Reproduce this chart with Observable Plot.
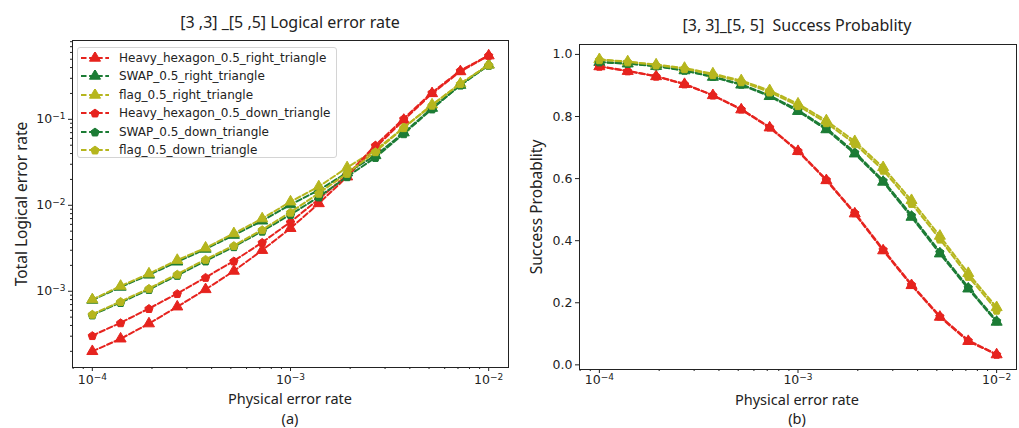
<!DOCTYPE html>
<html>
<head>
<meta charset="utf-8">
<script src="https://cdn.jsdelivr.net/npm/d3@7"></script>
<script src="https://cdn.jsdelivr.net/npm/@observablehq/plot@0.6"></script>
<style>
  html, body { margin: 0; padding: 0; background: #fff; }
  #wrap { position: relative; width: 1019px; height: 428px; overflow: hidden; font-family: "DejaVu Sans", sans-serif; color: #222; }
  .abs { position: absolute; white-space: pre; line-height: 1; }
  .title { font-family: "Noto Sans", sans-serif; font-size: 16px; transform: translate(-50%, -50%); }
  .xlab { font-family: "Noto Sans", sans-serif; font-size: 14.5px; transform: translate(-50%, -50%); }
  .ylab { font-family: "Noto Sans", sans-serif; font-size: 15.5px; transform: translate(-50%, -50%) rotate(-90deg); }
  .legend { position: absolute; left: 77px; top: 47px; width: 260px; height: 111px; border: 1px solid #d4d4d4; border-radius: 3px; background: rgba(255,255,255,0.85); box-sizing: border-box; }
  .lrow { position: absolute; left: 0; height: 18px; display: flex; align-items: center; font-family: "DejaVu Sans", sans-serif; font-size: 12px; color: #222; }
  .lrow svg { margin-left: 3px; margin-right: 10px; }
</style>
</head>
<body>
<div id="wrap"></div>
<script>
// ---------- data ----------
const physicalErrorRate = [1e-4, 1.389e-4, 1.931e-4, 2.683e-4, 3.728e-4, 5.179e-4, 7.197e-4, 1e-3,
  1.389e-3, 1.931e-3, 2.683e-3, 3.728e-3, 5.179e-3, 7.197e-3, 1e-2];

const seriesNames = ["Heavy_hexagon_0.5_right_triangle", "SWAP_0.5_right_triangle", "flag_0.5_right_triangle",
  "Heavy_hexagon_0.5_down_triangle", "SWAP_0.5_down_triangle", "flag_0.5_down_triangle"];
const seriesColors = ["#e6231e", "#1c7c35", "#b6b61e", "#e6231e", "#1c7c35", "#b6b61e"];
const seriesMarkers = ["triangle", "triangle", "triangle", "pentagon", "pentagon", "pentagon"];

// (a) total logical error rate
const logicalHeavyRight = [2.0e-4, 2.8e-4, 4.2e-4, 6.6e-4, 1.05e-3, 1.72e-3, 3.0e-3, 5.4e-3, 1.05e-2, 2.15e-2, 4.7e-2, 0.098, 0.20, 0.36, 0.55];
const logicalSwapRight  = [7.9e-4, 1.12e-3, 1.55e-3, 2.2e-3, 3.1e-3, 4.5e-3, 6.6e-3, 1.02e-2, 1.5e-2, 2.4e-2, 3.8e-2, 0.07, 0.135, 0.25, 0.43];
const logicalFlagRight  = [8.0e-4, 1.15e-3, 1.6e-3, 2.3e-3, 3.2e-3, 4.7e-3, 7.0e-3, 1.1e-2, 1.65e-2, 2.75e-2, 4.4e-2, 0.08, 0.148, 0.26, 0.43];
const logicalHeavyDown  = [3.05e-4, 4.3e-4, 6.3e-4, 9.4e-4, 1.45e-3, 2.25e-3, 3.7e-3, 6.4e-3, 1.18e-2, 2.25e-2, 5.0e-2, 0.102, 0.205, 0.37, 0.555];
const logicalSwapDown   = [5.3e-4, 7.4e-4, 1.05e-3, 1.53e-3, 2.25e-3, 3.3e-3, 5.0e-3, 7.8e-3, 1.25e-2, 2.15e-2, 3.6e-2, 0.068, 0.132, 0.25, 0.425];
const logicalFlagDown   = [5.4e-4, 7.6e-4, 1.08e-3, 1.58e-3, 2.35e-3, 3.4e-3, 5.2e-3, 8.3e-3, 1.38e-2, 2.35e-2, 4.2e-2, 0.08, 0.146, 0.26, 0.43];

// (b) success probability
const successHeavyRight = [0.961, 0.946, 0.929, 0.904, 0.868, 0.822, 0.764, 0.688, 0.594, 0.487, 0.368, 0.256, 0.154, 0.076, 0.033];
const successSwapRight  = [0.975, 0.970, 0.962, 0.948, 0.927, 0.902, 0.865, 0.817, 0.758, 0.680, 0.589, 0.476, 0.358, 0.245, 0.138];
const successFlagRight  = [0.984, 0.977, 0.967, 0.956, 0.938, 0.916, 0.884, 0.841, 0.787, 0.720, 0.636, 0.530, 0.415, 0.295, 0.185];
const successHeavyDown  = [0.962, 0.947, 0.930, 0.905, 0.869, 0.824, 0.766, 0.690, 0.597, 0.490, 0.372, 0.259, 0.157, 0.079, 0.034];
const successSwapDown   = [0.976, 0.971, 0.963, 0.949, 0.929, 0.904, 0.868, 0.821, 0.762, 0.685, 0.594, 0.482, 0.364, 0.250, 0.142];
const successFlagDown   = [0.983, 0.976, 0.966, 0.954, 0.935, 0.912, 0.879, 0.835, 0.780, 0.712, 0.627, 0.520, 0.405, 0.285, 0.176];

// ticks (labels written as base^exponent, drawn with a raised exponent)
const xMajorTicks = [1e-4, 1e-3, 1e-2];
const xTickLabels = ["10^\u22124", "10^\u22123", "10^\u22122"];
const xMinorTicks = [8e-5, 9e-5, 2e-4, 3e-4, 4e-4, 5e-4, 6e-4, 7e-4, 8e-4, 9e-4, 2e-3, 3e-3, 4e-3, 5e-3, 6e-3, 7e-3, 8e-3, 9e-3];
const yLogMajorTicks = [1e-3, 1e-2, 1e-1];
const yLogTickLabels = ["10^\u22123", "10^\u22122", "10^\u22121"];
const yLogMinorTicks = [2e-4, 3e-4, 4e-4, 5e-4, 6e-4, 7e-4, 8e-4, 9e-4, 2e-3, 3e-3, 4e-3, 5e-3, 6e-3, 7e-3, 8e-3, 9e-3,
  2e-2, 3e-2, 4e-2, 5e-2, 6e-2, 7e-2, 8e-2, 9e-2, 2e-1, 3e-1, 4e-1, 5e-1, 6e-1, 7e-1, 8e-1];
const yLinTicks = [0, 0.2, 0.4, 0.6, 0.8, 1.0];
const yLinTickLabels = ["0.0", "0.2", "0.4", "0.6", "0.8", "1.0"];

const titleA = "[3 ,3] _[5 ,5] Logical error rate";
const titleB = "[3, 3]_[5, 5]\u00A0 Success Probablity";
const xLabel = "Physical error rate";
const yLabelA = "Total Logical error rate";
const yLabelB = "Success Probablity";

// ---------- helpers ----------
const pentagon = {
  draw(context, size) {
    const r = Math.sqrt(size / 2.3776);
    for (let k = 0; k < 5; k++) {
      const a = -Math.PI / 2 + k * 2 * Math.PI / 5;
      const px = r * Math.cos(a), py = r * Math.sin(a) + r * 0.1;
      if (k === 0) context.moveTo(px, py); else context.lineTo(px, py);
    }
    context.closePath();
  }
};
const symbolOf = m => m === "pentagon" ? pentagon : "triangle";
const labelLookup = (ticks, labels) => d => {
  const i = ticks.findIndex(v => Math.abs(v - d) < 1e-12 || Math.abs(Math.log10(v) - Math.log10(d)) < 1e-6);
  return i >= 0 ? labels[i] : "";
};

function seriesMarks(valueArrays) {
  const marks = [];
  valueArrays.forEach((vals, s) => {
    const rows = physicalErrorRate.map((p, i) => ({p, v: vals[i]}));
    marks.push(Plot.line(rows, {x: "p", y: "v", stroke: seriesColors[s], strokeWidth: 2, strokeDasharray: "5.5,2.6"}));
    marks.push(Plot.dot(rows, {x: "p", y: "v", symbol: symbolOf(seriesMarkers[s]), r: seriesMarkers[s] === "pentagon" ? 3.8 : 4.1,
      fill: seriesColors[s], stroke: seriesColors[s], strokeWidth: 1}));
  });
  return marks;
}

const common = {
  style: {fontFamily: "DejaVu Sans, sans-serif", fontSize: "12.5px", color: "#222", background: "transparent", overflow: "visible"}
};

// turn "10^−4" tick texts into a base with a raised, smaller exponent
function superscriptTicks(svg) {
  d3.select(svg).selectAll("text").each(function () {
    const el = d3.select(this);
    const s = this.textContent;
    const m = /^(\d+)\^(.+)$/.exec(s);
    if (!m) return;
    el.text(null);
    el.append("tspan").text(m[1]);
    el.append("tspan").attr("dy", "-0.5em").attr("font-size", "9px").text(m[2]);
  });
}

// ---------- panel (a) ----------
const plotA = Plot.plot({
  ...common,
  width: 520, height: 428, marginLeft: 72, marginRight: 12, marginTop: 40, marginBottom: 61,
  x: {type: "log", domain: [10 ** -4.1, 10 ** -1.9]},
  y: {type: "log", domain: [10 ** -3.887, 10 ** -0.083]},
  marks: [
    ...seriesMarks([logicalHeavyRight, logicalSwapRight, logicalFlagRight, logicalHeavyDown, logicalSwapDown, logicalFlagDown]),
    Plot.axisX(xMajorTicks, {tickSize: 4, tickPadding: 4, tickFormat: labelLookup(xMajorTicks, xTickLabels), label: null, fontSize: 12.5}),
    Plot.axisX(xMinorTicks, {tickSize: 2, tickFormat: () => "", label: null}),
    Plot.axisY(yLogMajorTicks, {tickSize: 4, tickPadding: 3, tickFormat: labelLookup(yLogMajorTicks, yLogTickLabels), label: null, fontSize: 12.5}),
    Plot.axisY(yLogMinorTicks, {tickSize: 2, tickFormat: () => "", label: null}),
    Plot.frame({stroke: "#222", strokeWidth: 1})
  ]
});
superscriptTicks(plotA);

// ---------- panel (b) ----------
const plotB = Plot.plot({
  ...common,
  width: 509, height: 428, marginLeft: 69, marginRight: 3, marginTop: 44, marginBottom: 59,
  x: {type: "log", domain: [10 ** -4.1, 10 ** -1.9]},
  y: {domain: [-0.015, 1.032]},
  marks: [
    ...seriesMarks([successHeavyRight, successSwapRight, successFlagRight, successHeavyDown, successSwapDown, successFlagDown]),
    Plot.axisX(xMajorTicks, {tickSize: 4, tickPadding: 2, tickFormat: labelLookup(xMajorTicks, xTickLabels), label: null, fontSize: 12.5}),
    Plot.axisX(xMinorTicks, {tickSize: 2, tickFormat: () => "", label: null}),
    Plot.axisY(yLinTicks, {tickSize: 4, tickPadding: 3, tickFormat: labelLookup(yLinTicks, yLinTickLabels), label: null, fontSize: 12.5}),
    Plot.frame({stroke: "#222", strokeWidth: 1})
  ]
});
superscriptTicks(plotB);

const wrap = document.getElementById("wrap");
function place(el, left, top) { el.style.position = "absolute"; el.style.left = left + "px"; el.style.top = top + "px"; wrap.appendChild(el); }
place(plotA, 0, 0);
place(plotB, 510, 0);

function addText(txt, cls, x, y) {
  const d = document.createElement("div");
  d.className = "abs " + cls;
  d.textContent = txt;
  d.style.left = x + "px"; d.style.top = y + "px";
  wrap.appendChild(d);
}
addText(titleA, "title", 290, 22);
addText(titleB, "title", 797, 25);
addText(xLabel, "xlab", 290, 398);
addText("(a)", "xlab", 290, 417.5);
addText(xLabel, "xlab", 797, 399);
addText("(b)", "xlab", 797, 418);
addText(yLabelA, "ylab", 22, 204);
addText(yLabelB, "ylab", 537, 207);

// ---------- legend ----------
const leg = document.createElement("div");
leg.className = "legend";
wrap.appendChild(leg);
seriesNames.forEach((name, s) => {
  const row = document.createElement("div");
  row.className = "lrow";
  row.style.top = (0.5 + s * 18.5) + "px";
  const svg = d3.create("svg").attr("width", 28).attr("height", 12);
  svg.append("line").attr("x1", 0).attr("x2", 28).attr("y1", 6).attr("y2", 6)
    .attr("stroke", seriesColors[s]).attr("stroke-width", 2).attr("stroke-dasharray", "5.5,2.6");
  const sym = seriesMarkers[s] === "pentagon" ? pentagon : d3.symbolTriangle;
  const rr = seriesMarkers[s] === "pentagon" ? 3.8 : 4.1;
  svg.append("path").attr("transform", "translate(14,6)")
    .attr("d", d3.symbol(sym, rr * rr * Math.PI)())
    .attr("fill", seriesColors[s]).attr("stroke", seriesColors[s]).attr("stroke-width", 1);
  row.appendChild(svg.node());
  const t = document.createElement("span");
  t.textContent = name;
  row.appendChild(t);
  leg.appendChild(row);
});
</script>
</body>
</html>
